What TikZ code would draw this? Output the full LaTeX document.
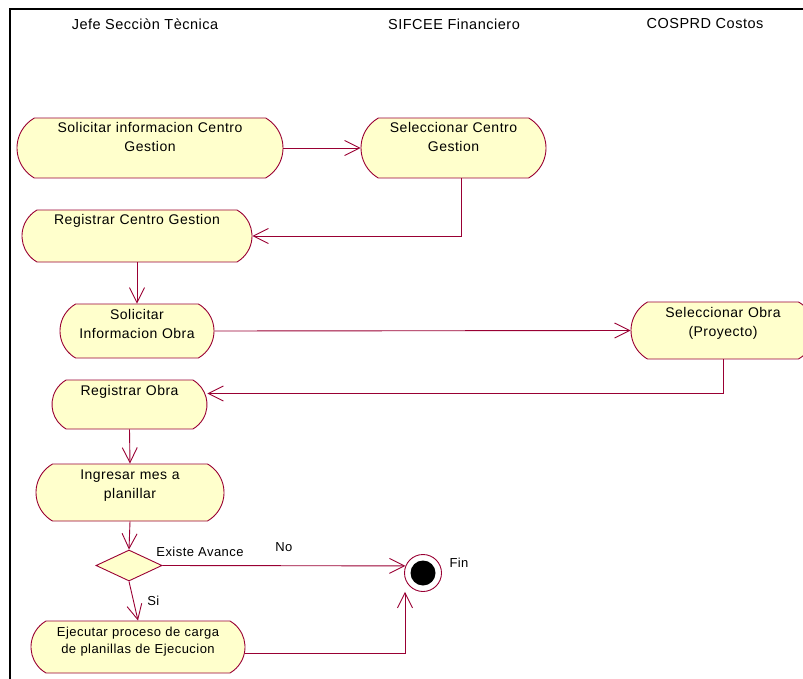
\documentclass[tikz,border=0pt]{standalone}
\usepackage{fontspec}
\setmainfont{Liberation Sans}[LetterSpace=3.5]
\usetikzlibrary{positioning,arrows.meta,shapes.misc,shapes.geometric}
\definecolor{rosered}{RGB}{153,0,51}
\definecolor{roseyellow}{RGB}{255,255,204}

\begin{document}
\begin{tikzpicture}[x=1pt, y=-1pt, >={Straight Barb[length=15pt,width=15pt]}, line width=0.9pt]
    % Styles
    \tikzstyle{activity}=[rounded rectangle, rounded rectangle arc length=120, draw=rosered, fill=roseyellow, inner xsep=0pt, inner ysep=0pt, align=center, font=\fontsize{14}{19}\selectfont, text height=15pt]
    \tikzstyle{decision}=[diamond, draw=rosered, fill=roseyellow, inner sep=0pt, minimum width=66pt, minimum height=31pt]
    \tikzstyle{endstate}=[circle, draw=rosered, fill=white, minimum size=37pt, inner sep=0pt, path picture={\fill[black] (path picture bounding box.center) circle (12.5pt);}]
    \tikzstyle{flow}=[->, draw=rosered]
    \tikzstyle{swimlane}=[font=\fontsize{14.5}{17}\selectfont]
    \tikzstyle{guard}=[font=\fontsize{13}{15}\selectfont]

    \useasboundingbox (0,0) rectangle (803,679);

    % Frame and lane titles
    \draw[black, line width=2pt] (803,9) -- (10,9) -- (10,679);
    \node[swimlane] (jefe) at (145,24) {Jefe Secciòn Tècnica};
    \node[swimlane] (sifcee) at (454,24) {SIFCEE Financiero};
    \node[swimlane] (cosprd) at (705,24) {COSPRD Costos};

    % Activities
    \node[activity, minimum width=266pt, minimum height=60pt, text width=226pt, text depth=45pt] (solcentro) at (150,148) {Solicitar informacion Centro\\Gestion};
    \node[activity, minimum width=185pt, minimum height=60pt, text width=150pt, text depth=45pt] (selcentro) at (453.5,148) {Seleccionar Centro\\Gestion};
    \node[activity, minimum width=230pt, minimum height=52pt, text width=190pt, text depth=37pt] (regcentro) at (137,236) {Registrar Centro Gestion};
    \node[activity, minimum width=154pt, minimum height=54pt, text width=118pt, text depth=39pt] (solobra) at (137,331) {Solicitar\\Informacion Obra};
    \node[activity, minimum width=184pt, minimum height=57pt, text width=150pt, text depth=42pt] (selobra) at (723,330.5) {Seleccionar Obra\\(Proyecto)};
    \node[activity, minimum width=155pt, minimum height=49pt, text width=118pt, text depth=34pt] (regobra) at (129.5,404.5) {Registrar Obra};
    \node[activity, minimum width=188pt, minimum height=57pt, text width=150pt, text depth=42pt] (ingresar) at (130,492.5) {Ingresar mes a\\planillar};
    \node[decision] (avance) at (129,565.5) {};
    \node[activity, minimum width=214pt, minimum height=52pt, text width=180pt, text depth=37pt, font=\fontsize{13}{17}\selectfont] (ejecutar) at (138,647) {Ejecutar proceso de carga\\de planillas de Ejecucion};
    \node[endstate] (fin) at (423,573) {};

    % Texts beside the decision and the end state
    \node[guard] (avancelbl) at (200,552) {Existe Avance};
    \node[guard] (finlbl) at (459,563) {Fin};

    % Transitions
    \draw[flow] (solcentro.east) -- (selcentro.west);
    \draw[flow] ([xshift=8pt]selcentro.south) |- (regcentro.east);
    \draw[flow] (regcentro.south) -- (solobra.north);
    \draw[flow] (solobra.east) -- (selobra.west);
    \draw[flow] (selobra.south) |- ([yshift=11pt]regobra.east);
    \draw[flow] (regobra.south) -- (ingresar.north);
    \draw[flow] (ingresar.south) -- (avance.north);
    \draw[flow] (avance.east) -- (fin.158) node[guard, midway, above=10pt] {No};
    \draw[flow] (avance.south) -- (ejecutar.north) node[guard, midway, right=10pt] {Si};
    \draw[flow] ([yshift=-6pt]ejecutar.east) -| ([xshift=-18pt]fin.south);

\end{tikzpicture}
\end{document}
